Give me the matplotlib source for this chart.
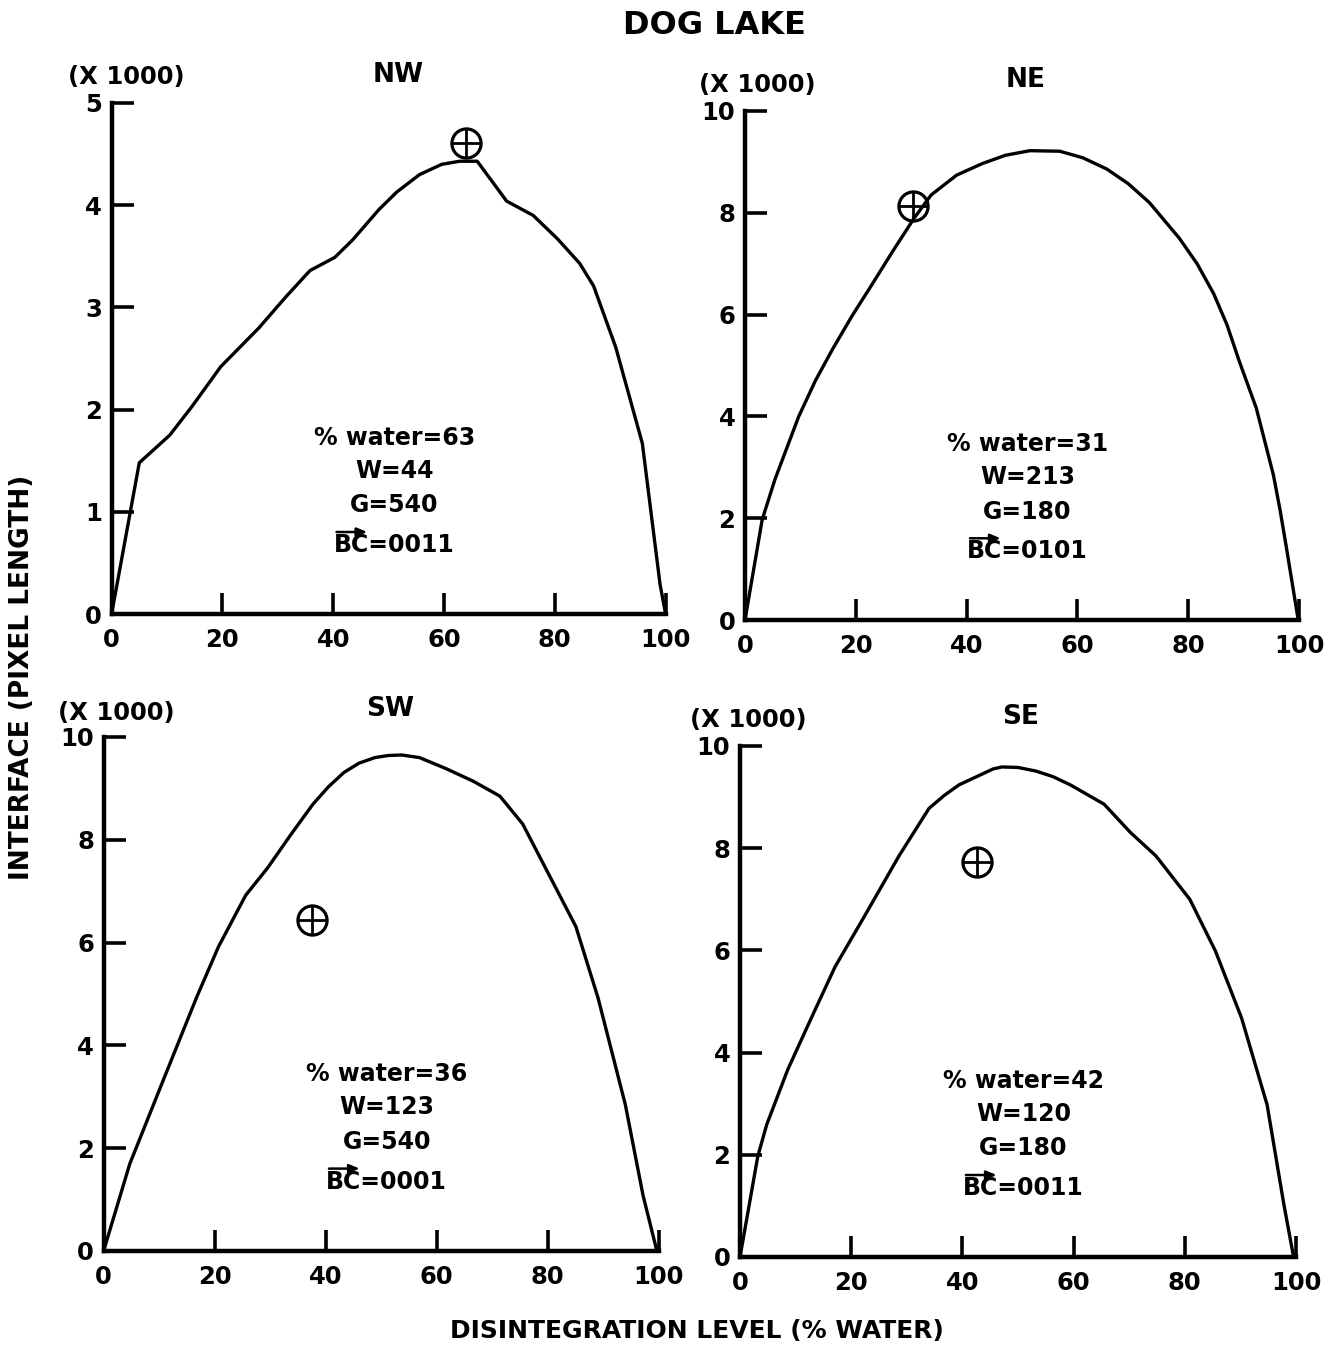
import matplotlib
matplotlib.use("Agg")
import matplotlib.pyplot as plt
from matplotlib.patches import FancyArrowPatch

plt.rcParams['font.family'] = ['DejaVu Sans']
plt.rcParams['font.weight'] = 'bold'

# disintegration level (% water) vs interface length (x 1000 pixels)
nw_x = [0, 5.0, 10.5, 14.5, 19.7, 26.6, 31.4, 35.8, 40.3, 43.5, 48.3, 51.5, 55.6,
        59.6, 62.8, 66.0, 71.3, 76.1, 80.5, 84.5, 87.0, 91.0, 95.8, 99.0, 100]
nw_y = [0, 1.48, 1.75, 2.03, 2.42, 2.80, 3.10, 3.36, 3.49, 3.66, 3.96, 4.13, 4.30,
        4.40, 4.43, 4.43, 4.04, 3.90, 3.67, 3.43, 3.21, 2.61, 1.67, 0.29, 0]

ne_x = [0, 3.1, 5.4, 9.7, 12.7, 15.8, 19.3, 22.8, 26.7, 30.5, 33.6, 38.2, 42.9,
        47.0, 51.4, 56.8, 61.0, 65.3, 69.2, 73.0, 78.4, 81.6, 84.6, 87.0, 89.2,
        92.3, 95.4, 96.6, 97.7, 99.8, 100]
ne_y = [0, 1.97, 2.76, 4.0, 4.70, 5.32, 5.97, 6.57, 7.25, 7.89, 8.35, 8.74, 8.97,
        9.13, 9.22, 9.21, 9.08, 8.86, 8.57, 8.20, 7.50, 7.00, 6.41, 5.80, 5.09,
        4.16, 2.84, 2.15, 1.44, 0.04, 0]

sw_x = [0, 4.7, 10.7, 16.7, 20.7, 25.6, 29.6, 33.6, 37.7, 40.5, 43.3, 46.0, 48.9,
        51.3, 53.7, 56.9, 61.8, 66.6, 71.4, 75.5, 80.3, 85.1, 89.1, 94.0, 97.2,
        99.6, 100]
sw_y = [0, 1.69, 3.31, 4.92, 5.92, 6.92, 7.46, 8.08, 8.69, 9.03, 9.31, 9.49, 9.60,
        9.64, 9.65, 9.60, 9.38, 9.14, 8.85, 8.31, 7.31, 6.31, 4.92, 2.85, 1.08,
        0.04, 0]

se_x = [0, 3.2, 4.8, 8.6, 12.5, 17.1, 22.5, 28.6, 34.0, 36.7, 39.4, 45.5, 47.1,
        50.0, 53.2, 56.3, 59.4, 65.5, 70.2, 74.8, 80.9, 85.5, 90.2, 94.8, 97.8,
        99.5, 100]
se_y = [0, 1.97, 2.59, 3.67, 4.60, 5.68, 6.69, 7.85, 8.78, 9.03, 9.24, 9.55, 9.59,
        9.58, 9.51, 9.40, 9.24, 8.86, 8.31, 7.85, 7.0, 5.99, 4.68, 2.98, 1.04,
        0.04, 0]

# observed points (circled cross)
obs_x = [64.0, 30.3, 37.5, 42.6]
obs_y = [4.61, 8.14, 6.44, 7.73]

names = ["NW", "NE", "SW", "SE"]
curves_x = [nw_x, ne_x, sw_x, se_x]
curves_y = [nw_y, ne_y, sw_y, se_y]
ymax = [5, 10, 10, 10]
water = [63, 31, 36, 42]
w_vals = [44, 213, 123, 120]
g_vals = [540, 180, 540, 180]
bc_vals = ["0011", "0101", "0001", "0011"]

W, H = 1327, 1347
fig = plt.figure(figsize=(W / 100, H / 100), dpi=100)
renderer = fig.canvas.get_renderer()

# axes boxes in pixels: left, bottom-edge y, width, height
boxes = [(111.6, 614, 554, 511),
         (745, 620, 554, 509),
         (103.6, 1251, 555, 514),
         (740, 1257, 556, 511)]
title_pos = [(398, 75), (1026, 80), (390, 709), (1021, 717)]
scale_pos = [(126, 77), (757, 85), (116, 713), (748, 720)]

for i in range(4):
    l, b, w, h = boxes[i]
    ax = fig.add_axes([l / W, 1 - b / H, w / W, h / H])
    ax.plot(curves_x[i], curves_y[i], color='black', lw=2.4, clip_on=False,
            solid_joinstyle='round', solid_capstyle='round')
    ax.plot(obs_x[i], obs_y[i], marker='o', ms=21, mfc='none', mec='black',
            mew=2.3, clip_on=False, zorder=5)
    ax.plot(obs_x[i], obs_y[i], marker='+', ms=21, mec='black', mew=2.0,
            clip_on=False, zorder=5)

    ax.set_xlim(0, 100)
    ax.set_ylim(0, ymax[i])
    ax.set_xticks([0, 20, 40, 60, 80, 100])
    ax.set_yticks(range(0, ymax[i] + 1, 1 if ymax[i] == 5 else 2))
    for s in ['top', 'right']:
        ax.spines[s].set_visible(False)
    for s in ['left', 'bottom']:
        ax.spines[s].set_linewidth(3.2)
    ax.tick_params(axis='y', direction='in', length=16, width=2.6, pad=7,
                   labelsize=17.5)
    ax.tick_params(axis='x', direction='in', length=15, width=2.6, pad=10,
                   labelsize=17.5)
    for lab in ax.get_xticklabels() + ax.get_yticklabels():
        lab.set_fontweight('bold')

    lines = ["%% water=%d" % water[i], "W=%d" % w_vals[i], "G=%d" % g_vals[i],
             "BC=" + bc_vals[i]]
    ys = [0.345, 0.28, 0.213, 0.135]
    for t, yy in zip(lines, ys):
        txt = ax.text(0.51, yy, t, transform=ax.transAxes, ha='center',
                      va='center', fontsize=17, fontweight='bold')
    # vector arrow over "BC"
    bb = txt.get_window_extent(renderer)
    probe = ax.text(0, 0, "BC", fontsize=17, fontweight='bold')
    bc_w = probe.get_window_extent(renderer).width
    probe.remove()
    ay = bb.y1 + 1
    arrow = FancyArrowPatch((bb.x0, ay), (bb.x0 + bc_w + 1, ay),
                            arrowstyle='-|>,head_length=6,head_width=2.5',
                            lw=1.8, color='black', transform=None,
                            mutation_scale=1)
    fig.add_artist(arrow)

    tx, ty = title_pos[i]
    fig.text(tx / W, 1 - ty / H, names[i], ha='center', va='center',
             fontsize=19, fontweight='bold')
    sx, sy = scale_pos[i]
    fig.text(sx / W, 1 - sy / H, "(X 1000)", ha='center', va='center',
             fontsize=17.5, fontweight='bold')

fig.text(714 / W, 1 - 25 / H, "DOG LAKE", ha='center', va='center',
         fontsize=23, fontweight='bold')
fig.text(697 / W, 1 - 1331 / H, "DISINTEGRATION LEVEL (% WATER)", ha='center',
         va='center', fontsize=18, fontweight='bold')
fig.text(22 / W, 1 - 677 / H, "INTERFACE (PIXEL LENGTH)", ha='center',
         va='center', rotation=90, fontsize=19, fontweight='bold')

fig.savefig("out.png", dpi=100)
